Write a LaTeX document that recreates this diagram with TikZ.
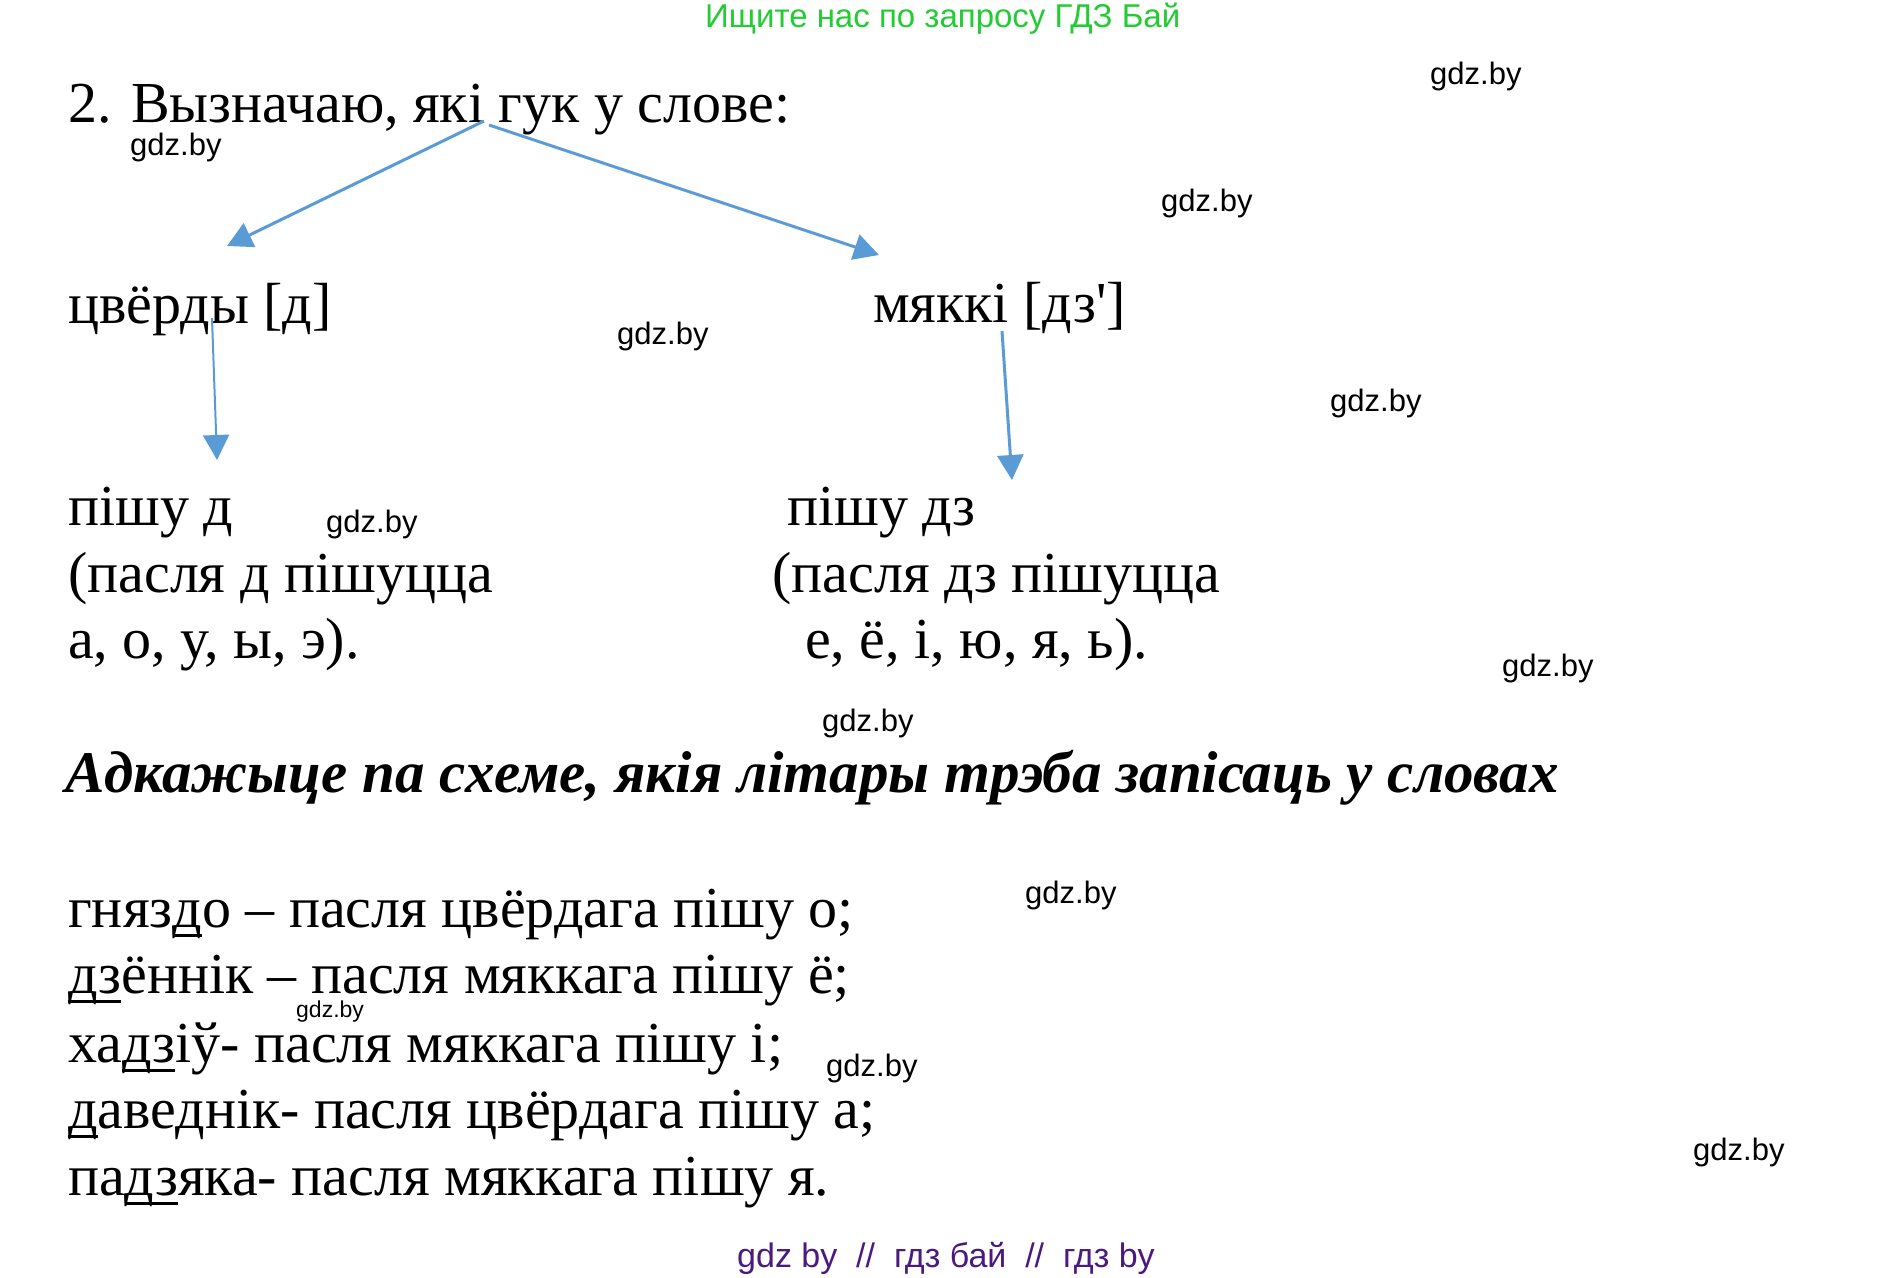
\documentclass[tikz,border=0pt]{standalone}
\usepackage{fontspec}
\setmainfont{Liberation Serif}
\newfontfamily\wmfont{Liberation Sans}
\usetikzlibrary{arrows.meta,positioning,calc}
\definecolor{arrblue}{HTML}{5B9BD5}
\definecolor{adgreen}{HTML}{22CC33}
\definecolor{adpurple}{HTML}{4B1A80}
\newcommand{\Gdz}[3][31]{
\node [wm,font=\wmfont\fontsize{#1}{#1}\selectfont] (#2) at (#3) {gdz.by};
}
\newcommand{\Pad}[1]{\setbox0\hbox{#1}\rlap{\rule[-10pt]{\wd0}{3pt}}\box0}

\begin{document}
\begin{tikzpicture}[x=1pt,y=-1pt,
  txt/.style={anchor=base west,inner sep=0pt,font=\fontsize{58}{66}\selectfont},
  wm/.style={anchor=west,inner sep=0pt},
  arr/.style={arrblue,line width=3pt,-{Triangle[length=25pt,width=26pt]}}]
\path[use as bounding box,fill=white] (0,0) rectangle (1887,1277);
% top and bottom lines
\node [anchor=base west,inner sep=0pt,adgreen,font=\wmfont\fontsize{33}{33}\selectfont] (ad) at (705,27) {Ищите нас по запросу ГДЗ Бай};
\node [anchor=base west,inner sep=0pt,adpurple,font=\wmfont\fontsize{34}{34}\selectfont] (foot) at (737,1267) {gdz by \ // \ гдз бай \ // \ гдз by};
% scheme
\node [txt] (title) at (68,122) {2. Вызначаю, які гук у слове:};
\node [txt] (hard) at (68,323) {цвёрды [д]};
\node [txt] (soft) at (873,322) {мяккі [дз\textquotesingle]};
\node [txt] (hardA) at (68,525) {пішу д};
\node [txt] (hardB) at (68,592) {(пасля д пішуцца};
\node [txt] (hardC) at (68,658) {а, о, у, ы, э).};
\node [txt] (softA) at (787,525) {пішу дз};
\node [txt] (softB) at (772,592) {(пасля дз пішуцца};
\node [txt] (softC) at (805,658) {е, ё, і, ю, я, ь).};
\coordinate (fromL) at (484,121);
\coordinate (toL) at (227,246);
\coordinate (fromR) at (489,125);
\coordinate (toR) at (879,255);
\coordinate (hardD) at (212,318);
\coordinate (hardE) at (217,460);
\coordinate (softD) at (1002,331);
\coordinate (softE) at (1012,480);
\draw [arr] (fromL) -- (toL);
\draw [arr] (fromR) -- (toR);
\draw [arr,line width=2pt] (hardD) -- (hardE);
\draw [arr] (softD) -- (softE);
% task
\node [txt,font=\fontsize{59}{66}\selectfont\bfseries\itshape] (task) at (65,792) {Адкажыце па схеме, якія літары трэба запісаць у словах};
\node [txt] (w1) at (68,927) {гняз\Pad{д}о – пасля цвёрдага пішу о;};
\node [txt] (w2) at (68,993) {\Pad{дз}ённік – пасля мяккага пішу ё;};
\node [txt] (w3) at (68,1062) {ха\Pad{дз}іў- пасля мяккага пішу і;};
\node [txt] (w4) at (68,1128) {\Pad{д}аведнік- пасля цвёрдага пішу а;};
\node [txt] (w5) at (68,1195) {па\Pad{дз}яка- пасля мяккага пішу я.};
% watermarks
\Gdz{g1}{1430,76}
\Gdz{g2}{130,147}
\Gdz{g3}{1161,203}
\Gdz{g4}{617,336}
\Gdz{g5}{1330,403}
\Gdz{g6}{326,524}
\Gdz{g7}{1502,668}
\Gdz{g8}{822,723}
\Gdz{g9}{1025,895}
\Gdz[23]{g10}{296,1012}
\Gdz{g11}{826,1068}
\Gdz{g12}{1693,1152}
\end{tikzpicture}
\end{document}
